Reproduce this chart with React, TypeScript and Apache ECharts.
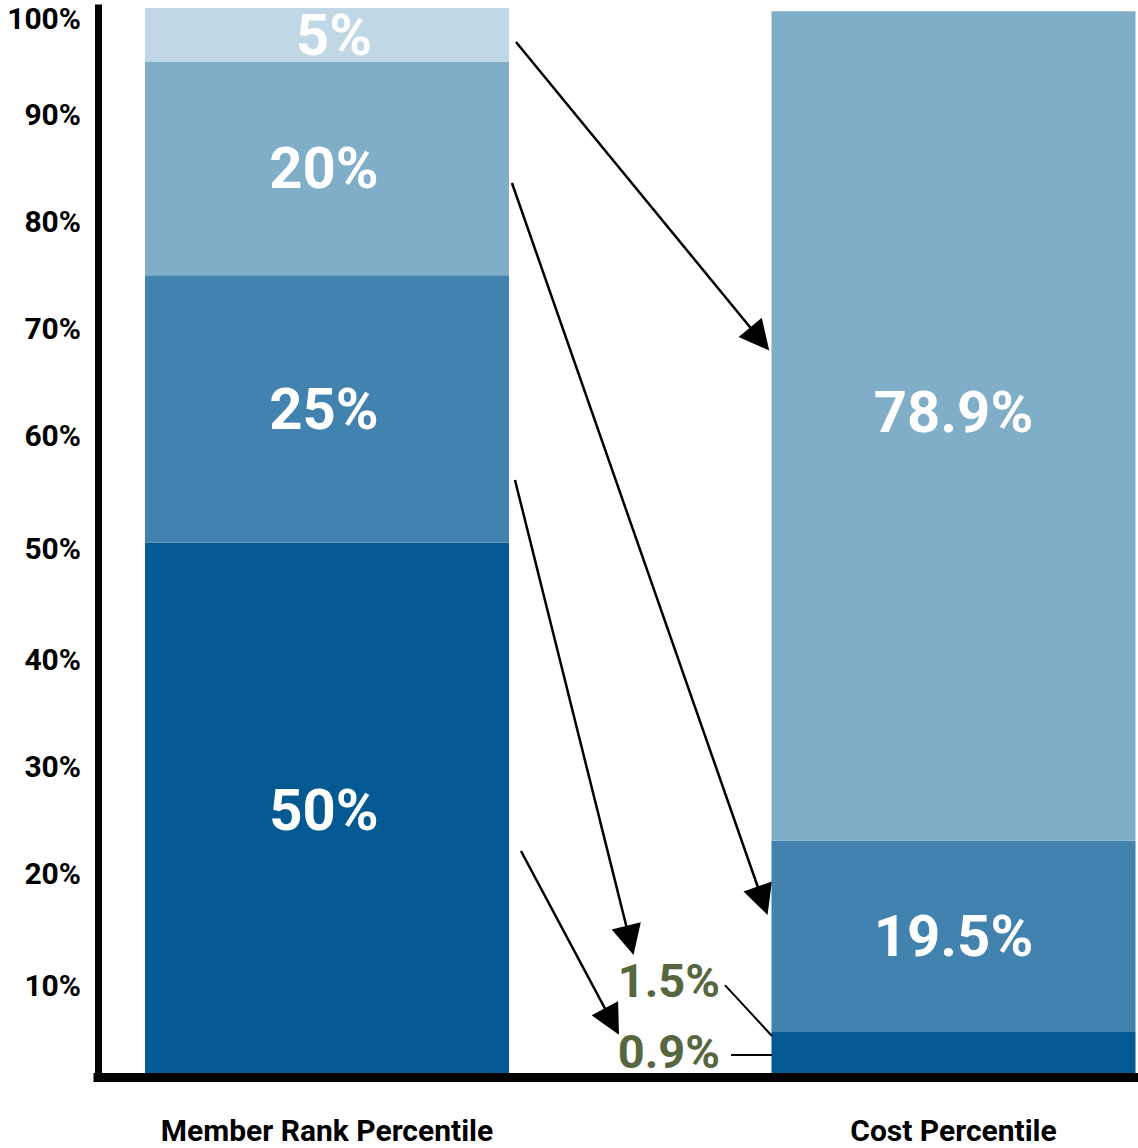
import React, { useEffect, useRef } from 'react';
import * as echarts from 'echarts';

// ---- data ----
const categories = ['Member Rank Percentile', 'Cost Percentile'];

const memberNames = ['Bottom 50%', 'Next 25%', 'Next 20%', 'Top 5%'];
const memberValues = [50, 25, 20, 5];
const memberLabels = ['50%', '25%', '20%', '5%'];

const costNames = ['Bottom 75% cost', 'Next 20% cost', 'Top 5% cost'];
const costValues = [4.2, 17.9, 77.6]; // drawn heights
const costLabels = ['', '19.5%', '78.9%'];

const calloutLabels = ['1.5%', '0.9%'];
const calloutPoints = [
  [55.0, 9.07],
  [55.0, 2.34],
];
const calloutLines = [
  [[60.4, 8.6], [64.93, 3.84]],
  [[60.98, 2.06], [64.93, 2.06]],
];
const arrowLinks = [
  [[40.27, 96.82], [63.75, 69.04]],
  [[39.88, 83.63], [64.03, 16.49]],
  [[40.17, 55.85], [51.24, 12.78]],
  [[40.75, 21.14], [49.51, 5.19]],
];

const memberColors = ['#035a93', '#4183ae', '#80adc8', '#c0d7e5'];
const costColors = ['#035a93', '#4183ae', '#80adc8'];

const FONT = 'Roboto, "Liberation Sans", Arial, sans-serif';

const labelKey = (v: number) => {
  if (v === 100 || v === 40 || v === 30 || v === 20) return 't';
  if (v === 50) return 'm';
  if (v === 10) return 'b';
  return 'n';
};

export default function App() {
  const ref = useRef<HTMLDivElement>(null);
  useEffect(() => {
    if (!ref.current) return;
    const chart = echarts.init(ref.current, undefined, { renderer: 'svg' });
    const tickText = { fontSize: 30, fontWeight: 'bold' as const, fontFamily: FONT, color: '#000' };

    const barLabel = (text: string, dy: number, dx: number) => ({
      show: text !== '',
      position: 'inside',
      formatter: () => text,
      offset: [dx, dy],
      color: '#fff',
      fontSize: 58,
      fontWeight: 'bold',
      fontFamily: FONT,
      textBorderWidth: 0,
    });

    const barSeries: any[] = [];
    memberValues.forEach((v, i) => {
      barSeries.push({
        type: 'bar',
        name: memberNames[i],
        stack: 'stackA',
        xAxisIndex: 1,
        yAxisIndex: 1,
        barWidth: 364,
        data: [v, '-'],
        itemStyle: { color: memberColors[i] },
        label: barLabel(memberLabels[i], 0, i === 3 ? 7 : -3),
        z: 2,
      });
    });
    costValues.forEach((v, i) => {
      barSeries.push({
        type: 'bar',
        name: costNames[i],
        stack: 'stackA',
        xAxisIndex: 1,
        yAxisIndex: 1,
        barWidth: 364,
        data: ['-', v],
        itemStyle: { color: costColors[i] },
        label: barLabel(costLabels[i], i === 2 ? -14 : 0, 0),
        z: 2,
      });
    });

    chart.setOption({
      animation: false,
      backgroundColor: '#fff',
      grid: [
        { left: 98, right: 2, top: 8, bottom: 71, containLabel: false, outerBoundsMode: 'none' },
        { left: 13.75, right: -128.75, top: 8, bottom: 71, containLabel: false, outerBoundsMode: 'none' },
      ],
      xAxis: [
        {
          gridIndex: 0,
          type: 'value',
          min: 0,
          max: 100,
          z: 10,
          axisLine: { show: true, onZero: false, lineStyle: { color: '#000', width: 9, cap: 'square' } },
          axisTick: { show: false },
          splitLine: { show: false },
          axisLabel: { show: false },
        },
        {
          gridIndex: 1,
          type: 'category',
          data: categories,
          axisLine: { show: false },
          axisTick: { show: false },
          splitLine: { show: false },
          axisLabel: { margin: 38, ...tickText, lineHeight: 30, interval: 0 },
        },
      ],
      yAxis: [
        {
          gridIndex: 0,
          type: 'value',
          min: 0,
          max: 100,
          interval: 10,
          axisLine: { show: true, lineStyle: { color: '#000', width: 7, cap: 'square' } },
          axisTick: { show: false },
          splitLine: { show: false },
          axisLabel: {
            margin: 17,
            ...tickText,
            formatter: (v: number) => (v === 0 ? '' : `{${labelKey(v)}|${v}%}`),
            rich: {
              n: { ...tickText },
              t: { ...tickText, padding: [20, 0, 0, 0] },
              m: { ...tickText, padding: [12, 0, 0, 0] },
              b: { ...tickText, padding: [30, 0, 0, 0] },
            },
          },
        },
        {
          gridIndex: 1,
          type: 'value',
          min: 0,
          max: 100,
          show: false,
          splitLine: { show: false },
        },
      ],
      series: [
        ...barSeries,
        {
          type: 'lines',
          coordinateSystem: 'cartesian2d',
          xAxisIndex: 0,
          yAxisIndex: 0,
          symbol: ['none', 'triangle'],
          symbolSize: [26, 30],
          lineStyle: { color: '#000', width: 2.5, opacity: 1, curveness: 0 },
          data: arrowLinks.map((c) => ({ coords: c })),
          z: 5,
          silent: true,
        },
        {
          type: 'lines',
          coordinateSystem: 'cartesian2d',
          xAxisIndex: 0,
          yAxisIndex: 0,
          symbol: ['none', 'none'],
          lineStyle: { color: '#000', width: 2, opacity: 1, curveness: 0 },
          data: calloutLines.map((c) => ({ coords: c })),
          z: 5,
          silent: true,
        },
        {
          type: 'scatter',
          xAxisIndex: 0,
          yAxisIndex: 0,
          symbolSize: 1,
          itemStyle: { color: 'rgba(0,0,0,0)' },
          data: calloutPoints,
          label: {
            show: true,
            position: 'inside',
            formatter: (p: any) => calloutLabels[p.dataIndex],
            color: '#56663f',
            fontSize: 47,
            fontWeight: 'bold',
            fontFamily: FONT,
            textBorderWidth: 0,
            opacity: 1,
          },
          z: 6,
          silent: true,
        },
      ],
    });
    return () => chart.dispose();
  }, []);
  return (
    <div
      ref={ref}
      style={{ position: 'absolute', left: 0, top: 0, width: 1138, height: 1148, background: '#fff' }}
    />
  );
}
